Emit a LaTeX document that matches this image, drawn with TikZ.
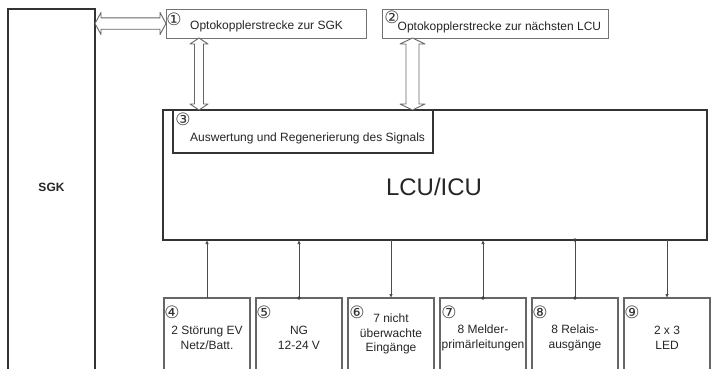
\documentclass[tikz,border=0pt]{standalone}
\usepackage{fontspec}
\setmainfont{Liberation Sans}
\newfontfamily\symf{DejaVu Sans}
\usetikzlibrary{calc,arrows.meta}
\newcommand\harrow[4]{%
 \draw[hollow] (#1) -- ($(#1)+(6,#4)$) -- ($(#1)+(6,#3)$) -- ($(#2)+(-6,#3)$) -- ($(#2)+(-6,#4)$) -- (#2) -- ($(#2)+(-6,-#4)$) -- ($(#2)+(-6,-#3)$) -- ($(#1)+(6,-#3)$) -- ($(#1)+(6,-#4)$) -- cycle;}
\newcommand\varrow[4]{%
 \draw[hollow] (#1) -- ($(#1)+(#4,-6)$) -- ($(#1)+(#3,-6)$) -- ($(#2)+(#3,6)$) -- ($(#2)+(#4,6)$) -- (#2) -- ($(#2)+(-#4,6)$) -- ($(#2)+(-#3,6)$) -- ($(#1)+(-#3,-6)$) -- ($(#1)+(-#4,-6)$) -- cycle;}
\begin{document}
\begin{tikzpicture}[x=1pt,y=1pt,
  thinbox/.style={draw=black!55, line width=1pt, inner sep=0, outer sep=0},
  heavybox/.style={draw=black!80, line width=1.5pt, inner sep=0, outer sep=0},
  txt/.style={font=\fontsize{12}{14.5}\selectfont, text=black!85, align=center, inner sep=0},
  num/.style={font=\symf\fontsize{17}{17}\selectfont, text=black!80, inner sep=0},
  hollow/.style={draw=black!60, line width=0.9pt, fill=white, line join=round},
  link/.style={draw=black!70, line width=0.9pt},
  tip/.style={-{Latex[length=4pt,width=3.5pt]}},
  dot/.style={fill=black!75},
]
\clip (0,0) rectangle (711,368);
\fill[white] (0,0) rectangle (711,368);

% SGK
\node[heavybox, line width=2pt, minimum width=87, minimum height=380, anchor=north west] (sgk) at (8,359) {};
\node[txt, font=\bfseries\fontsize{12}{14}\selectfont] (sgktxt) at (51.5,181) {SGK};

% optocoupler boxes
\node[thinbox, minimum width=200, minimum height=29, anchor=north west] (o1) at (166,359) {};
\node[num] (n1) at (174,349) {①};
\node[txt, anchor=west] (t1) at (190,342) {Optokopplerstrecke zur SGK};

\node[thinbox, minimum width=226, minimum height=29, anchor=north west] (o2) at (382,359) {};
\node[num] (n2) at (392,351) {②};
\node[txt, anchor=west] (t2) at (397.5,341) {Optokopplerstrecke zur nächsten LCU};

% LCU
\node[heavybox, minimum width=544, minimum height=130, anchor=north west] (lcu) at (163,258) {};
\node[font=\fontsize{24}{24}\selectfont, text=black!85, inner sep=0] (lcutxt) at (434,181) {LCU/ICU};
\node[heavybox, minimum width=260, minimum height=43, anchor=north west] (b3) at (173,258) {};
\node[num] (n3) at (183,249) {③};
\node[txt, anchor=west] (t3) at (190,230) {Auswertung und Regenerierung des Signals};

% bottom boxes
\foreach \i/\x in {4/164,5/256,6/348,7/440,8/532,9/624}{
  \node[thinbox, draw=black!60, line width=1.1pt, minimum width=86, minimum height=100, anchor=north west] (b\i) at (\x,70) {};
}
\node[num] (n4) at ($(b4.north west)+(8,-14)$) {④};
\node[num] (n5) at ($(b5.north west)+(8,-14)$) {⑤};
\node[num] (n6) at ($(b6.north west)+(9,-14)$) {⑥};
\node[num] (n7) at ($(b7.north west)+(9,-14)$) {⑦};
\node[num] (n8) at ($(b8.north west)+(8,-14)$) {⑧};
\node[num] (n9) at ($(b9.north west)+(8,-14)$) {⑨};
\node[txt] (t4) at ($(b4.north)+(0,-40)$) {2 Störung EV\\Netz/Batt.};
\node[txt] (t5) at ($(b5.north)+(0,-40)$) {NG\\12-24 V};
\node[txt] (t6) at ($(b6.north)+(0,-36)$) {7 nicht\\überwachte\\Eingänge};
\node[txt] (t7) at ($(b7.north)+(0,-40)$) {8 Melder-\\primärleitungen};
\node[txt] (t8) at ($(b8.north)+(0,-40)$) {8 Relais-\\ausgänge};
\node[txt] (t9) at ($(b9.north)+(0,-40)$) {2 x 3\\LED};

% connectors LCU <-> bottom boxes
\draw[link,tip] (b4.north) -- (b4.north |- lcu.south);
\draw[link,tip] (b5.north) -- (b5.north |- lcu.south);
\fill[dot] (b5.north) circle (1.8);
\draw[link,tip] (b6.north |- lcu.south) -- (b6.north);
\draw[link,tip] (b7.north) -- (b7.north |- lcu.south);
\fill[dot] (b7.north) circle (1.8);
\draw[link] (b8.north) -- (b8.north |- lcu.south);
\fill[dot] (b8.north) circle (1.8);
\fill[dot] (b8.north |- lcu.south) circle (1.8);
\draw[link,tip] (b9.north |- lcu.south) -- (b9.north);

% hollow double arrows
\coordinate (h1e) at (o1.west);
\coordinate (h1s) at (sgk.east |- h1e);
\harrow{h1s}{h1e}{5.7}{11}
\coordinate (v1t) at ($(o1.south west)+(33,0)$);
\coordinate (v1b) at (v1t |- lcu.north);
\varrow{v1t}{v1b}{4.5}{9}
\coordinate (v2t) at ($(o2.south west)+(30.5,0)$);
\coordinate (v2b) at (v2t |- lcu.north);
\varrow{v2t}{v2b}{6.5}{12.5}
\end{tikzpicture}
\end{document}
